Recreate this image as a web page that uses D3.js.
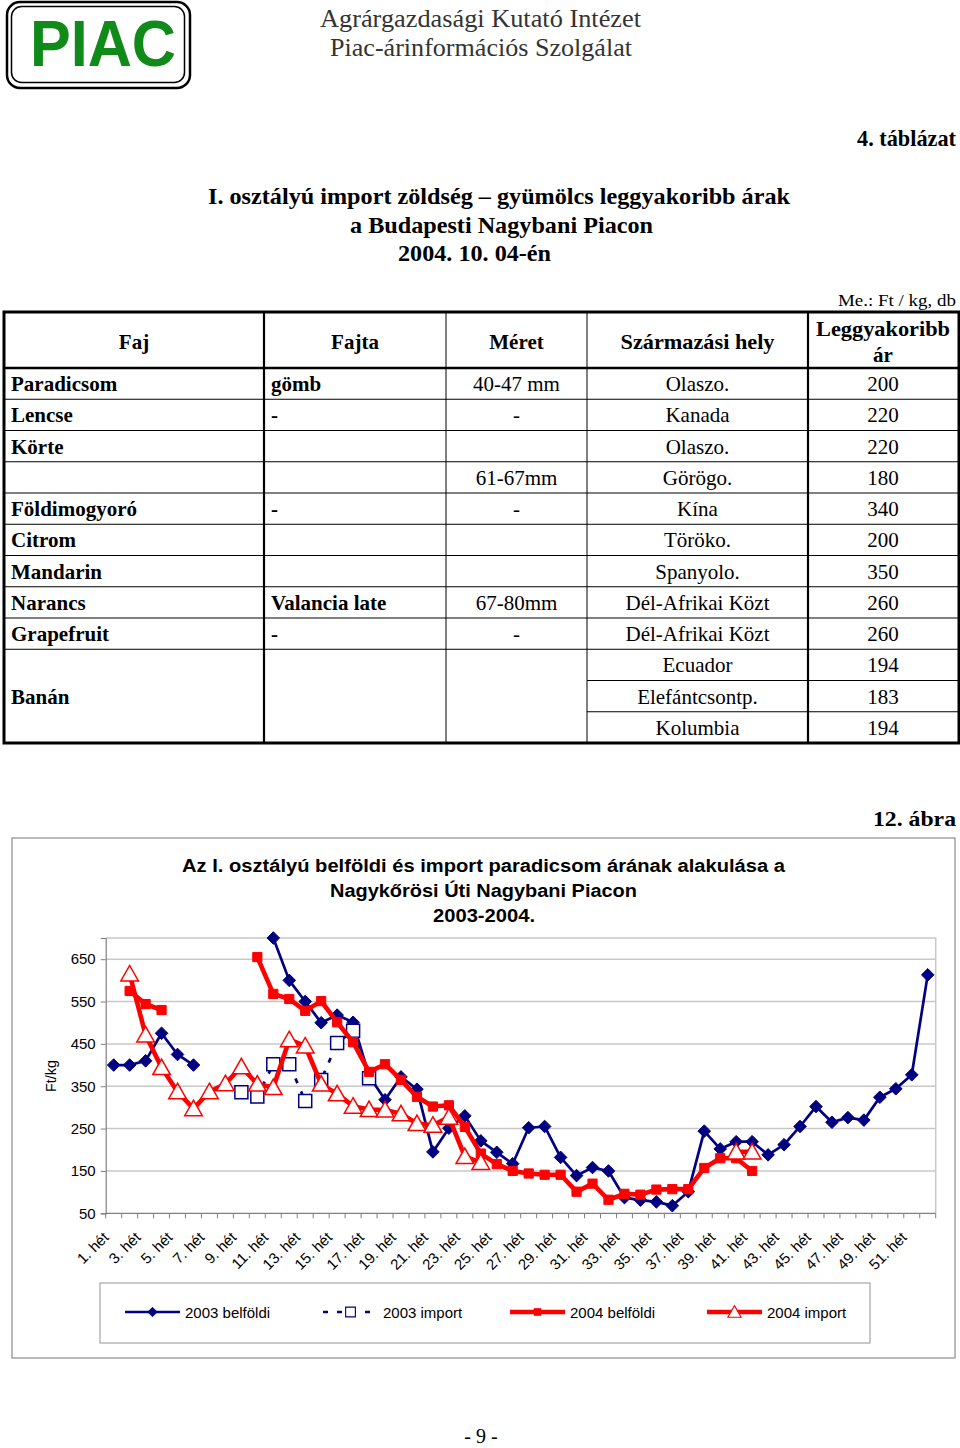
<!DOCTYPE html>
<html><head><meta charset="utf-8">
<script src="https://cdn.jsdelivr.net/npm/d3@7"></script>
<style>body{margin:0;background:#fff}svg{display:block}</style>
</head><body>
<svg id="page" width="960" height="1448"></svg>
<script>
// ---------------- DATA ----------------
const weekLabels = ["1. hét","2. hét","3. hét","4. hét","5. hét","6. hét","7. hét","8. hét","9. hét","10. hét",
 "11. hét","12. hét","13. hét","14. hét","15. hét","16. hét","17. hét","18. hét","19. hét","20. hét",
 "21. hét","22. hét","23. hét","24. hét","25. hét","26. hét","27. hét","28. hét","29. hét","30. hét",
 "31. hét","32. hét","33. hét","34. hét","35. hét","36. hét","37. hét","38. hét","39. hét","40. hét",
 "41. hét","42. hét","43. hét","44. hét","45. hét","46. hét","47. hét","48. hét","49. hét","50. hét",
 "51. hét","52. hét"];
const yTicks = [50,150,250,350,450,550,650];
const belfoldi2003 = [400,400,410,475,425,400,null,null,null,null,
 700,600,550,500,518,501,375,318,372,343,
 195,251,280,221,194,167,252,255,182,139,
 158,150,87,81,77,68,101,244,202,219,
 219,188,212,255,302,265,276,270,324,344,
 377,613];
const import2003 = [null,null,null,null,null,null,null,null,336,326,
 402,402,315,365,452,481,369,null,null,null,
 null,null,null,null,null,null,null,null,null,null,
 null,null,null,null,null,null,null,null,null,null,
 null,null,null,null,null,null,null,null,null,null,
 null,null];
const belfoldi2004 = [null,575,544,530,null,null,null,null,null,655,
 568,556,528,551,501,454,384,402,365,325,
 302,305,254,191,166,150,144,141,141,101,
 120,82,96,94,106,107,107,157,180,180,
 150,null,null,null,null,null,null,null,null,null,
 null,null];
const import2004 = [null,615,471,394,337,297,337,356,396,355,
 347,460,445,355,332,303,295,294,285,262,
 258,277,184,170,null,null,null,null,null,null,
 null,null,null,null,null,null,null,null,null,195,
 195,null,null,null,null,null,null,null,null,null,
 null,null];
const seriesNames = ["2003 belföldi","2003 import","2004 belföldi","2004 import"];

// table data
const tableHeaders = ["Faj","Fajta","Méret","Származási hely","Leggyakoribb ár"];
const colFaj   = ["Paradicsom","Lencse","Körte","","Földimogyoró","Citrom","Mandarin","Narancs","Grapefruit","","Banán",""];
const colFajta = ["gömb","-","","","-","","","Valancia late","-","","",""];
const colMeret = ["40-47 mm","-","","61-67mm","-","","","67-80mm","-","","",""];
const colHely  = ["Olaszo.","Kanada","Olaszo.","Görögo.","Kína","Töröko.","Spanyolo.","Dél-Afrikai Közt","Dél-Afrikai Közt","Ecuador","Elefántcsontp.","Kolumbia"];
const colAr    = ["200","220","220","180","340","200","350","260","260","194","183","194"];

// ---------------- PAGE ----------------
const svg = d3.select("#page");
const serif = "'Liberation Serif','Times New Roman',serif";
const sans = "'Liberation Sans',Arial,sans-serif";

function txt(g, s, x, y, o) {
  o = o || {};
  const t = g.append("text").attr("x", x).attr("y", y).text(s)
    .attr("font-family", o.ff || serif).attr("font-size", o.fs || 20)
    .attr("font-weight", o.fw || "normal").attr("fill", o.fill || "#000")
    .attr("text-anchor", o.anchor || "start");
  if (o.len) t.attr("textLength", o.len).attr("lengthAdjust", "spacingAndGlyphs");
  return t;
}

// Logo
svg.append("rect").attr("x",7).attr("y",2).attr("width",183).attr("height",86).attr("rx",13)
  .attr("fill","none").attr("stroke","#000").attr("stroke-width",2.5);
svg.append("rect").attr("x",11.5).attr("y",6.5).attr("width",173).attr("height",76).attr("rx",10)
  .attr("fill","none").attr("stroke","#000").attr("stroke-width",1.5);
txt(svg,"PIAC",103,66,{ff:sans,fs:64,fw:"bold",fill:"#108a18",anchor:"middle",len:146});

txt(svg,"Agrárgazdasági Kutató Intézet",480.5,27,{fs:25,fill:"#333",anchor:"middle",len:321});
txt(svg,"Piac-árinformációs Szolgálat",481,56,{fs:25,fill:"#333",anchor:"middle",len:302});

txt(svg,"4. táblázat",956,146,{fs:23,fw:"bold",anchor:"end",len:99});
txt(svg,"I. osztályú import zöldség – gyümölcs leggyakoribb árak",499,204,{fs:23,fw:"bold",anchor:"middle",len:582});
txt(svg,"a Budapesti Nagybani Piacon",501.5,233,{fs:23,fw:"bold",anchor:"middle",len:303});
txt(svg,"2004. 10. 04-én",474.5,261,{fs:23,fw:"bold",anchor:"middle",len:153});
txt(svg,"Me.:  Ft / kg, db",956,306,{fs:17,anchor:"end",len:118});

// Table
const tb = svg.append("g");
const colX = [4,264,446,587,808,959];
const tTop = 312, hBot = 368, rowH = 31.25, nRows = colHely.length;
const rowY = i => hBot + i*rowH;
const tBot = rowY(nRows);
for (let i=1;i<nRows;i++){
  const x0 = (i===10||i===11) ? colX[3] : colX[0];
  tb.append("line").attr("x1",x0).attr("x2",colX[5]).attr("y1",rowY(i)).attr("y2",rowY(i))
    .attr("stroke","#000").attr("stroke-width",1);
}
[[colX[1],2.2],[colX[2],1],[colX[3],1],[colX[4],2.2]].forEach(([x,w])=>{
  tb.append("line").attr("x1",x).attr("x2",x).attr("y1",tTop).attr("y2",tBot).attr("stroke","#000").attr("stroke-width",w);
});
tb.append("line").attr("x1",colX[0]).attr("x2",colX[5]).attr("y1",hBot).attr("y2",hBot).attr("stroke","#000").attr("stroke-width",2.5);
tb.append("rect").attr("x",colX[0]).attr("y",tTop).attr("width",colX[5]-colX[0]).attr("height",tBot-tTop)
  .attr("fill","none").attr("stroke","#000").attr("stroke-width",3);
txt(tb,tableHeaders[0],134,349,{fs:21,fw:"bold",anchor:"middle"});
txt(tb,tableHeaders[1],355,349,{fs:21,fw:"bold",anchor:"middle"});
txt(tb,tableHeaders[2],516.5,349,{fs:21,fw:"bold",anchor:"middle"});
txt(tb,tableHeaders[3],697.5,349,{fs:21,fw:"bold",anchor:"middle",len:154});
const hw = tableHeaders[4].split(" ");
txt(tb,hw[0],883,336,{fs:21,fw:"bold",anchor:"middle",len:134});
txt(tb,hw[1],883,362,{fs:21,fw:"bold",anchor:"middle"});
for (let i=0;i<nRows;i++){
  const by = rowY(i) + rowH/2 + 7.5;
  if (colFaj[i]) txt(tb,colFaj[i],11,by,{fs:21,fw:"bold"});
  if (colFajta[i]) txt(tb,colFajta[i],271,by,{fs:21,fw:"bold"});
  if (colMeret[i]) txt(tb,colMeret[i],516.5,by,{fs:21,anchor:"middle"});
  txt(tb,colHely[i],697.5,by,{fs:21,anchor:"middle"});
  txt(tb,colAr[i],883,by,{fs:21,anchor:"middle"});
}

// ---------------- CHART ----------------
txt(svg,"12. ábra",956,826,{fs:22,fw:"bold",anchor:"end",len:83});
svg.append("rect").attr("x",12).attr("y",838).attr("width",943).attr("height",520)
  .attr("fill","#fff").attr("stroke","#8c8c8c").attr("stroke-width",1.2);

txt(svg,"Az I. osztályú belföldi és import paradicsom árának alakulása a",483.5,872,{ff:sans,fs:18,fw:"bold",anchor:"middle",len:603});
txt(svg,"Nagykőrösi Úti Nagybani Piacon",483.5,897,{ff:sans,fs:18,fw:"bold",anchor:"middle",len:307});
txt(svg,"2003-2004.",484,922,{ff:sans,fs:18,fw:"bold",anchor:"middle",len:102});

const pL = 105.7, pR = 935.7, pT = 938, pB = 1213.3;
const x = d3.scaleBand().domain(weekLabels).range([pL,pR]);
const y = d3.scaleLinear().domain([50,700]).range([pB,pT]);
const cx = i => x(weekLabels[i]) + x.bandwidth()/2;

const ch = svg.append("g");
ch.append("g").selectAll("line").data(yTicks.filter(v=>v>50)).join("line")
  .attr("x1",pL).attr("x2",pR).attr("y1",d=>y(d)).attr("y2",d=>y(d))
  .attr("stroke","#c8c8c8").attr("stroke-width",1.5);
ch.append("path").attr("d",`M${pL},${pT}H${pR}V${pB}`).attr("fill","none").attr("stroke","#c8c8c8").attr("stroke-width",1.5);

const ya = ch.append("g").attr("transform",`translate(${pL},0)`)
  .call(d3.axisLeft(y).tickValues(yTicks).tickSize(5).tickPadding(5).tickFormat(d3.format("d")));
ya.select(".domain").attr("stroke","#808080").attr("stroke-width",1.2);
ya.selectAll(".tick line").attr("stroke","#808080");
ya.selectAll("text").attr("font-family",sans).attr("font-size",15).attr("fill","#000");

const xa = ch.append("g");
xa.append("line").attr("x1",pL).attr("x2",pR).attr("y1",pB).attr("y2",pB).attr("stroke","#808080").attr("stroke-width",1.2);
const bounds = weekLabels.map(l=>x(l)).concat([x(weekLabels[weekLabels.length-1])+x.bandwidth()]);
xa.selectAll("line.tk").data(bounds).join("line").attr("class","tk")
  .attr("x1",d=>d).attr("x2",d=>d).attr("y1",pB).attr("y2",pB+5).attr("stroke","#808080");
xa.selectAll("text").data(weekLabels.filter((d,i)=>i%2===0)).join("text")
  .attr("transform",d=>`translate(${x(d)+x.bandwidth()/2-4},${pB+25}) rotate(-45)`)
  .attr("text-anchor","end").attr("font-family",sans).attr("font-size",15).text(d=>d);

svg.append("text").attr("transform","translate(56,1076) rotate(-90)").attr("text-anchor","middle")
  .attr("font-family",sans).attr("font-size",14.5).text("Ft/kg");

const navy = "#000080", red = "#ff0000";
const diamond = "M0,-6.3L6.3,0L0,6.3L-6.3,0Z";
const tri = "M0,-8.5L8.8,7L-8.8,7Z";
const series = [
  {name:seriesNames[0], data:belfoldi2003, color:navy, w:2.7, dash:null, marker:diamond, mfill:navy, mstroke:navy, mw:1},
  {name:seriesNames[1], data:import2003, color:navy, w:2.7, dash:"5,9", marker:"M-6.5,-6.5H6.5V6.5H-6.5Z", mfill:"#fff", mstroke:navy, mw:1.5},
  {name:seriesNames[2], data:belfoldi2004, color:red, w:4.6, dash:null, marker:"M-4.6,-4.6H4.6V4.6H-4.6Z", mfill:red, mstroke:red, mw:1},
  {name:seriesNames[3], data:import2004, color:red, w:4.6, dash:null, marker:tri, mfill:"#fff", mstroke:red, mw:1.5}
];
const line = d3.line().defined(d=>d.v!=null).x(d=>cx(d.i)).y(d=>y(d.v));
series.forEach(s=>{
  const pts = s.data.map((v,i)=>({v,i}));
  const g = ch.append("g");
  g.append("path").attr("d",line(pts)).attr("fill","none").attr("stroke",s.color)
    .attr("stroke-width",s.w).attr("stroke-linejoin","round").attr("stroke-dasharray",s.dash);
  g.selectAll("path.m").data(pts.filter(p=>p.v!=null)).join("path").attr("class","m")
    .attr("d",s.marker).attr("transform",p=>`translate(${cx(p.i)},${y(p.v)})`)
    .attr("fill",s.mfill).attr("stroke",s.mstroke).attr("stroke-width",s.mw);
});

const lg = svg.append("g");
lg.append("rect").attr("x",100).attr("y",1283).attr("width",770).attr("height",60)
  .attr("fill","#fff").attr("stroke","#a6a6a6").attr("stroke-width",1.2);
const legX = [125,323,510,707];
series.forEach((s,k)=>{
  const x0 = legX[k], ly = 1312;
  lg.append("line").attr("x1",x0).attr("x2",x0+55).attr("y1",ly).attr("y2",ly)
    .attr("stroke",s.color).attr("stroke-width",s.w).attr("stroke-dasharray",s.dash);
  lg.append("path").attr("d",s.marker).attr("transform",`translate(${x0+27.5},${ly}) scale(0.75)`)
    .attr("fill",s.mfill).attr("stroke",s.mstroke).attr("stroke-width",s.mw);
  lg.append("text").attr("x",x0+60).attr("y",ly+5.5).attr("font-family",sans).attr("font-size",15).text(s.name);
});

txt(svg,"- 9 -",481,1443,{fs:20,anchor:"middle"});
</script>
</body></html>
